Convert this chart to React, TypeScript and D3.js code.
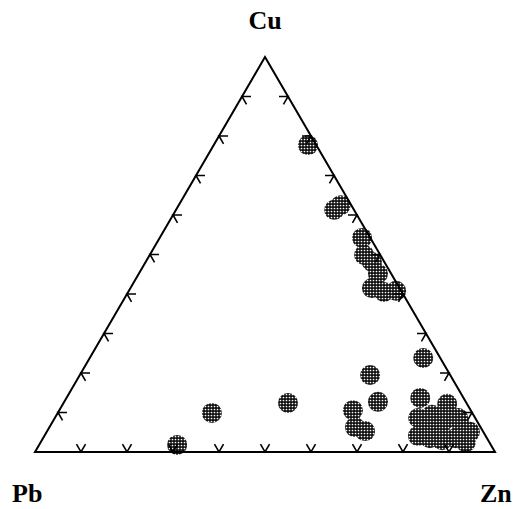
import React from "react";
import * as d3 from "d3";

// Ternary composition (%) of each sample: Cu, Pb, Zn
const cu = [77.7, 61.3, 62.5, 54.2, 49.9, 48.1, 45.1, 41.5, 40.5, 40.8,
  23.8, 19.5, 12.7, 10.6, 6.3, 5.3, 9.9, 1.8, 12.4,
  13.7, 12.2, 8.6, 9.4, 8.1, 8.6, 4.1, 3.5, 3.0, 3.5, 2.5, 6.1, 6.1, 5.6, 5.1];
const pb = [1.8, 4.3, 2.3, 1.8, 3.5, 2.7, 2.9, 6.0, 3.9, 1.1,
  3.7, 17.4, 19.1, 25.6, 27.3, 25.6, 56.6, 68.2, 38.8,
  9.4, 4.3, 12.4, 9.0, 6.8, 3.7, 14.7, 12.4, 10.0, 6.9, 5.1, 4.1, 12.2, 9.2, 2.9];
const zn = [20.5, 34.4, 35.2, 44.0, 46.6, 49.2, 52.0, 52.5, 55.6, 58.1,
  72.5, 63.1, 68.2, 63.8, 66.4, 69.1, 33.5, 30.0, 48.8,
  76.9, 83.5, 79.0, 81.6, 85.1, 87.7, 81.2, 84.1, 87.0, 89.6, 92.4, 89.8, 81.7, 85.2, 92.0];

const tickValues = [10, 20, 30, 40, 50, 60, 70, 80, 90];
const vertexLabels = ["Cu", "Pb", "Zn"];

const W = 519;
const H = 509;

export default function App() {
  // base position: Zn + Cu/2 ; height: Cu
  const xs = d3.scaleLinear().domain([0, 100]).range([35, 495]);
  const ys = d3.scaleLinear().domain([0, 100]).range([452, 57]);
  const pt = (c: number, z: number): [number, number] => [xs(z + c / 2), ys(c)];

  const apex = pt(100, 0);
  const pbV = pt(0, 0);
  const znV = pt(0, 100);

  // unit directions parallel to edges
  const dxR = znV[0] - apex[0], dyR = znV[1] - apex[1];
  const lr = Math.hypot(dxR, dyR);
  const uR = [dxR / lr, dyR / lr]; // apex -> Zn (down-right)
  const uL = [-uR[0], uR[1]]; // down-left
  const L = 9;

  const line = d3.line();
  const tickPaths: string[] = [];
  tickValues.forEach((t) => {
    // left edge (Pb-Cu), Zn = 0
    const [lx, ly] = pt(t, 0);
    tickPaths.push(line([[lx + L, ly], [lx, ly], [lx + uR[0] * L, ly + uR[1] * L]]) as string);
    // right edge (Cu-Zn), Pb = 0
    const [rx, ry] = pt(t, 100 - t);
    tickPaths.push(line([[rx - L, ry], [rx, ry], [rx + uL[0] * L, ry + uL[1] * L]]) as string);
    // bottom edge, Cu = 0
    const [bx, by] = pt(0, t);
    tickPaths.push(line([[bx - uR[0] * L, by - uR[1] * L], [bx, by], [bx - uL[0] * L, by - uL[1] * L]]) as string);
  });

  const tri = line([apex, pbV, znV]) + "Z";

  return (
    <svg width={W} height={H} style={{ position: "absolute", left: 0, top: 0, background: "#fff" }}>
      <defs>
        <pattern id="dots" width={3} height={3} patternUnits="userSpaceOnUse">
          <rect width={3} height={3} fill="#111" />
          <circle cx={1.5} cy={1.5} r={0.85} fill="#fff" />
        </pattern>
      </defs>
      <rect width={W} height={H} fill="#fff" />
      {cu.map((c, i) => {
        const [x, y] = pt(c, zn[i]);
        return <circle key={i} cx={x} cy={y} r={10} fill="url(#dots)" data-pb={pb[i]} />;
      })}
      <path d={tri} fill="none" stroke="#000" strokeWidth={2} strokeLinejoin="miter" />
      {tickPaths.map((d, i) => (
        <path key={i} d={d} fill="none" stroke="#000" strokeWidth={1.6} />
      ))}
      <g fontFamily="'Liberation Serif', 'Times New Roman', serif" fontWeight="bold" fontSize={26} fill="#000">
        <text x={apex[0]} y={29} textAnchor="middle">{vertexLabels[0]}</text>
        <text x={12} y={502}>{vertexLabels[1]}</text>
        <text x={480} y={502}>{vertexLabels[2]}</text>
      </g>
    </svg>
  );
}
